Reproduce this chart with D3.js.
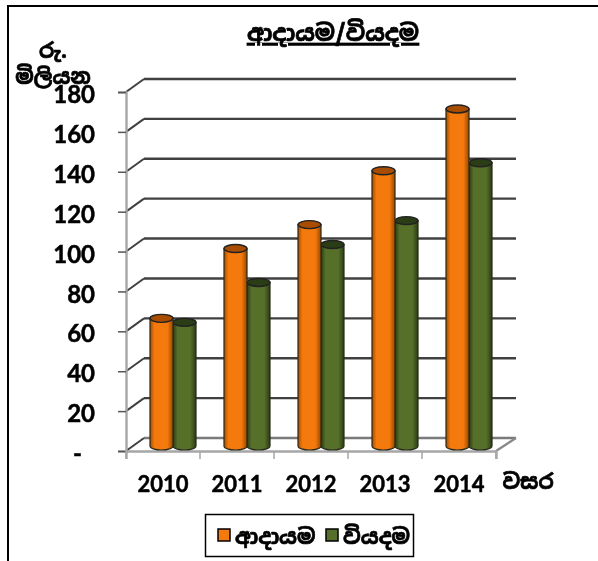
<!DOCTYPE html>
<html lang="en">
<head>
<meta charset="utf-8">
<title>ආදායම/වියදම</title>
<script src="https://cdn.jsdelivr.net/npm/d3@7"></script>
<style>
html, body { margin: 0; padding: 0; background: #fff; }
svg { display: block; }
text { fill: #000; }
.tick-label { font-family: Lato, "Open Sans", sans-serif; font-weight: 700; stroke: #000; stroke-width: 0.5px; }
.si { font-family: "Noto Sans Sinhala", "Noto Sans", "DejaVu Sans", sans-serif; font-weight: 700; stroke: #000; stroke-width: 0.7px; }
</style>
</head>
<body>
<div class="chart"></div>
<script>
var years = ["2010", "2011", "2012", "2013", "2014"];
var income = [64, 99, 111, 138, 169];
var expense = [62, 82, 101, 113, 142];
var yTicks = [0, 20, 40, 60, 80, 100, 120, 140, 160, 180];
var seriesNames = ["ආදායම", "වියදම"];
var seriesColors = [["#a84d00", "#f47a0c", "#9c4700"], ["#2c3c16", "#56702c", "#2a3a14"]];

var w = 598, h = 561;
var depthX = 18, depthY = 13;

var svg = d3.select("div.chart").append("svg").attr("width", w).attr("height", h);
var defs = svg.append("defs");

defs.append("filter").attr("id", "soft")
	.append("feGaussianBlur").attr("stdDeviation", 0.5);

seriesColors.forEach(function(c, i) {
	var g = defs.append("linearGradient").attr("id", "cyl" + i);
	g.append("stop").attr("offset", "0%").attr("stop-color", c[0]);
	g.append("stop").attr("offset", "20%").attr("stop-color", c[1]);
	g.append("stop").attr("offset", "75%").attr("stop-color", c[1]);
	g.append("stop").attr("offset", "100%").attr("stop-color", c[2]);
});

var xScale = d3.scaleBand().domain(years).range([126, 496]);
var yScale = d3.scaleLinear().domain([0, 180]).range([451, 92]);
var barScale = d3.scaleBand().domain([0, 1]).range([24, 70]);

var frame = svg.append("g");
frame.append("path")
	.attr("d", "M8,561V6H598")
	.attr("fill", "none").attr("stroke", "#000").attr("stroke-width", 2);

var plot = svg.append("g").attr("filter", "url(#soft)");

// back wall lines
plot.selectAll(".grid").data(yTicks).enter().append("line")
	.attr("x1", 126 + depthX).attr("x2", 496 + depthX + 2)
	.attr("y1", function(d) { return yScale(d) - depthY; })
	.attr("y2", function(d) { return yScale(d) - depthY; })
	.attr("stroke", function(d) { return d === 0 ? "#7a7a7a" : "#404040"; })
	.attr("stroke-width", 2.4);

// side wall lines
plot.selectAll(".side").data(yTicks).enter().append("line")
	.attr("x1", 126).attr("x2", 126 + depthX)
	.attr("y1", function(d) { return yScale(d); })
	.attr("y2", function(d) { return yScale(d) - depthY; })
	.attr("stroke", "#404040").attr("stroke-width", 2);

// floor
plot.append("line").attr("x1", 496).attr("x2", 496 + depthX + 2)
	.attr("y1", yScale(0)).attr("y2", yScale(0) - depthY)
	.attr("stroke", "#8a8a8a").attr("stroke-width", 2.4);

// axes
var yAxis = d3.axisLeft(yScale).tickValues(yTicks).tickFormat(function(d) { return d === 0 ? "-" : d; }).tickSize(8).tickPadding(9);
var gy = plot.append("g").attr("transform", "translate(126,0)").call(yAxis);
gy.select(".domain").attr("stroke", "#a6a6a6").attr("stroke-width", 2.4);
gy.selectAll(".tick line").attr("stroke", "#555").attr("stroke-width", 1.5);
gy.selectAll(".tick text").attr("class", "tick-label").attr("fill", "#000")
	.attr("font-size", 24)
	.attr("x", function(d) { return d === 0 ? -44 : -31; })
	.attr("dy", "0.44em");

var xAxis = d3.axisBottom(xScale).tickSize(8).tickSizeOuter(8).tickPadding(17);
var gx = plot.append("g").attr("transform", "translate(0,451)").call(xAxis);
gx.select(".domain").attr("stroke", "#a6a6a6").attr("stroke-width", 2.4);
gx.selectAll(".tick line")
	.attr("stroke", "#a6a6a6").attr("stroke-width", 1.5)
	.attr("x1", function() { return xScale.step() / 2; })
	.attr("x2", function() { return xScale.step() / 2; });
gx.append("line").attr("x1", 126).attr("x2", 126).attr("y1", 0).attr("y2", 8)
	.attr("stroke", "#a6a6a6").attr("stroke-width", 1.5);
gx.selectAll(".tick text").attr("class", "tick-label").attr("fill", "#000").attr("font-size", 22);

// cylinders, expense first so income overlaps it
var baseY = yScale(0) - 5;
[1, 0].forEach(function(s) {
	var vals = s === 0 ? income : expense;
	var g = plot.append("g");
	years.forEach(function(yr, i) {
		var x0 = xScale(yr) + barScale(s);
		var bw = barScale.bandwidth();
		var top = baseY - (yScale(0) - yScale(vals[i]));
		var rx = bw / 2, ry = 4;
		g.append("path")
			.attr("d", "M" + x0 + "," + top + "V" + baseY +
				"A" + rx + "," + ry + " 0 0 0 " + (x0 + bw) + "," + baseY + "V" + top + "Z")
			.attr("fill", "url(#cyl" + s + ")")
			.attr("stroke", "#2a2a1a").attr("stroke-width", 1.2);
		g.append("ellipse")
			.attr("cx", x0 + rx).attr("cy", top).attr("rx", rx).attr("ry", ry)
			.attr("fill", seriesColors[s][0]).attr("stroke", "#222").attr("stroke-width", 1.4);
	});
});

// titles
var labels = svg.append("g").attr("filter", "url(#soft)");
labels.append("text").attr("class", "si").attr("x", 333).attr("y", 41)
	.attr("text-anchor", "middle").attr("font-size", 23)
	.attr("text-decoration", "underline").text("ආදායම/වියදම");
labels.append("text").attr("class", "si").attr("x", 53).attr("y", 58)
	.attr("text-anchor", "middle").attr("font-size", 21).text("රු.");
labels.append("text").attr("class", "si").attr("x", 53).attr("y", 84)
	.attr("text-anchor", "middle").attr("font-size", 21).text("මිලියන");
labels.append("text").attr("class", "si").attr("x", 528).attr("y", 489)
	.attr("text-anchor", "middle").attr("font-size", 21).text("වසර");

// legend
var legend = svg.append("g");
legend.append("rect").attr("x", 205.5).attr("y", 514.5).attr("width", 208).attr("height", 42)
	.attr("fill", "#fff").attr("stroke", "#000").attr("stroke-width", 1.5);
var legendX = [218, 326];
seriesNames.forEach(function(name, i) {
	legend.append("rect").attr("x", legendX[i]).attr("y", 529).attr("width", 12).attr("height", 12)
		.attr("fill", seriesColors[i][1]).attr("stroke", "#000").attr("stroke-width", 1.5);
	legend.append("text").attr("class", "si").attr("x", legendX[i] + 17).attr("y", 544)
		.attr("font-size", 21).attr("filter", "url(#soft)").text(name);
});
</script>
</body>
</html>
